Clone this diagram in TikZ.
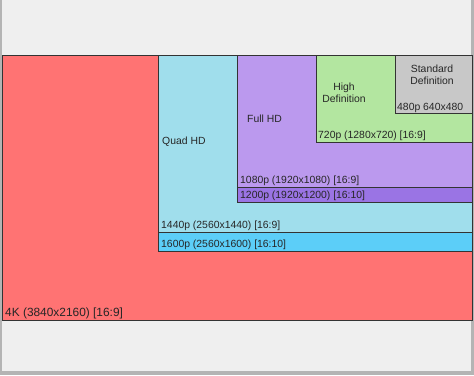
\documentclass[tikz,border=0pt]{standalone}
\usepackage{fontspec}
\setmainfont{Liberation Sans}
\begin{document}
\begin{tikzpicture}[x=1pt,y=-1pt,
  box/.style={draw=black!80, line width=0.8pt},
  lbl/.style={font=\fontsize{10.4}{12.5}\selectfont, inner sep=0pt, anchor=base west, text=black!85},
  cl/.style={font=\fontsize{10.4}{12.5}\selectfont, inner sep=0pt, align=center, text=black!85}]
\definecolor{bg}{HTML}{EFEFEF}
\definecolor{frame}{HTML}{B4B4B4}
\definecolor{red4k}{HTML}{FF7373}
\definecolor{qhd}{HTML}{A0DEEC}
\definecolor{qhdb}{HTML}{5CCEF8}
\definecolor{fhd}{HTML}{BB99EE}
\definecolor{fhdb}{HTML}{9A74E4}
\definecolor{hd}{HTML}{B3E6A0}
\definecolor{sd}{HTML}{C8C8C8}
\useasboundingbox (0,0) rectangle (474,375);
\fill[frame] (0,0) rectangle (474,375);
\fill[bg] (2,0) rectangle (471,371);
% rectangles
\filldraw[box, fill=red4k] (2,55) rectangle (472,320);
\filldraw[box, fill=qhdb] (158,55) rectangle (472,251);
\filldraw[box, fill=qhd] (158,55) rectangle (472,232);
\filldraw[box, fill=fhdb] (237,55) rectangle (472,202);
\filldraw[box, fill=fhd] (237,55) rectangle (472,187);
\filldraw[box, fill=hd] (316,55) rectangle (472,142);
\filldraw[box, fill=sd] (395,55) rectangle (472,113);
% labels
\node[lbl, font=\fontsize{11.9}{14}\selectfont] (k4) at (5,316) {4K (3840x2160) [16:9]};
\node[lbl] (p1600) at (161,247.5) {1600p (2560x1600) [16:10]};
\node[lbl] (p1440) at (161,228.5) {1440p (2560x1440) [16:9]};
\node[lbl] (p1200) at (240,198.5) {1200p (1920x1200) [16:10]};
\node[lbl] (p1080) at (240,183) {1080p (1920x1080) [16:9]};
\node[lbl] (p720) at (318,138.5) {720p (1280x720) [16:9]};
\node[lbl] (p480) at (397,110) {480p 640x480};
\node[lbl] (qhdt) at (162,144) {Quad HD};
\node[lbl] (fhdt) at (247,122) {Full HD};
\node[cl] (hdt) at (344,93) {High\\Definition};
\node[cl] (sdt) at (432,75) {Standard\\Definition};
\end{tikzpicture}
\end{document}
